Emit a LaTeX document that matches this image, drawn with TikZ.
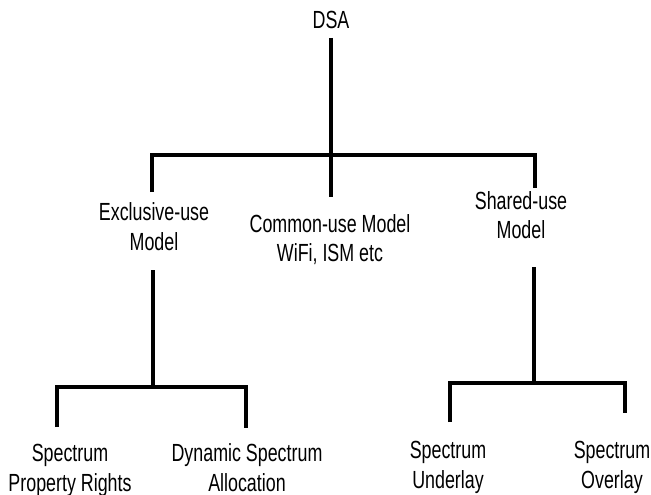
\documentclass[tikz,border=0pt]{standalone}
\usepackage{fontspec}
\setmainfont{Liberation Sans}[FakeStretch=0.72]
\begin{document}
\begin{tikzpicture}[x=1pt,y=-1pt,
  lbl/.style={anchor=base,align=center,inner sep=0pt,font=\fontsize{24.8}{29.5}\selectfont,text=black},
  wire/.style={line width=4pt,line join=miter,line cap=butt,black}]
\useasboundingbox (0,0) rectangle (651,495);
% text nodes (anchor at baseline of last line)
\node[lbl] (dsa) at (331,29) {DSA};
\node[lbl] (excl) at (154,250) {Exclusive-use\\Model};
\node[lbl] (comm) at (330,261.5) {Common-use Model\\WiFi, ISM etc};
\node[lbl] (shared) at (521,238.5) {Shared-use\\Model};
\node[lbl] (spr) at (70,491) {Spectrum\\Property Rights};
\node[lbl] (dsal) at (247,491) {Dynamic Spectrum\\Allocation};
\node[lbl] (sund) at (448,488) {Spectrum\\Underlay};
\node[lbl] (sov) at (612,488) {Spectrum\\Overlay};
% connector end points
\coordinate (dsaB) at (331,38);
\coordinate (topJ) at (331,155);
\coordinate (exclT) at (152,192);
\coordinate (commT) at (331,197);
\coordinate (sharedT) at (535,188);
\coordinate (exclB) at (153,270);
\coordinate (exclJ) at (153,387);
\coordinate (sprT) at (57,427);
\coordinate (dsalT) at (246,428);
\coordinate (sharedB) at (534,267);
\coordinate (sharedJ) at (534,383);
\coordinate (sundT) at (450,422);
\coordinate (sovT) at (625,413);
% connectors
\draw[wire] (dsaB) -- (topJ);
\draw[wire] (exclT) |- (topJ) -| (sharedT);
\draw[wire] (topJ) -- (commT);
\draw[wire] (exclB) -- (exclJ);
\draw[wire] (sprT) |- (exclJ) -| (dsalT);
\draw[wire] (sharedB) -- (sharedJ);
\draw[wire] (sundT) |- (sharedJ) -| (sovT);
\end{tikzpicture}
\end{document}
